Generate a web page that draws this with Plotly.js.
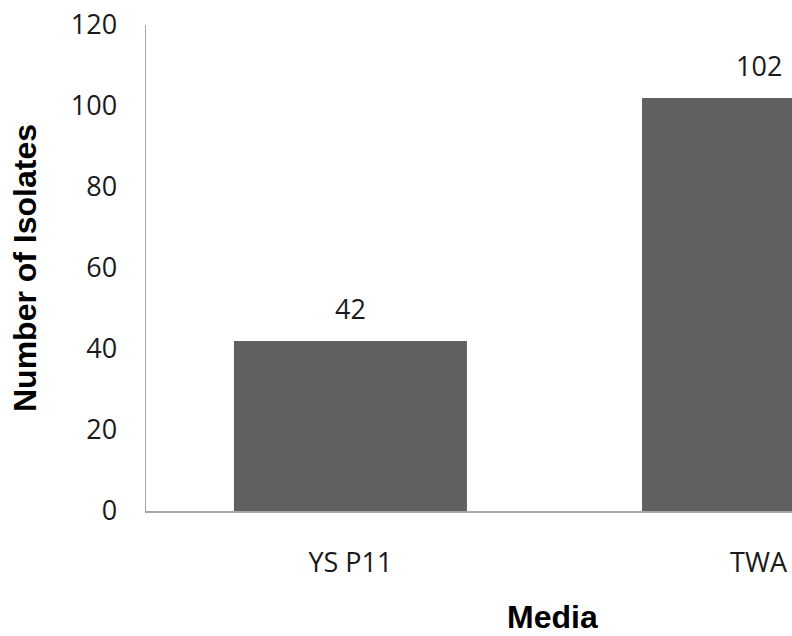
<!DOCTYPE html>
<html>
<head>
<meta charset="utf-8">
<script src="https://cdn.plot.ly/plotly-3.0.1.min.js"></script>
<style>html,body{margin:0;padding:0;background:#fff;}#chart{width:792px;height:636px;}</style>
</head>
<body>
<div id="chart"></div>
<script>
const categories = ["YS P11", "TWA"];
const isolates = [42, 102];
const yTicks = [0, 20, 40, 60, 80, 100, 120];
const xTitle = "Media";
const yTitle = "Number of Isolates";

const tickFont = {family: "'Open Sans', Lato, sans-serif", size: 27, color: "#1a1a1a"};
const titleFont = {family: "'Liberation Sans', Arial, sans-serif", size: 32, color: "#000", weight: "bold"};

const trace = {
  type: "bar",
  x: categories,
  y: isolates,
  width: 0.571,
  marker: {color: "#606060", line: {width: 0}},
  hoverinfo: "none"
};

const valueLabels = categories.map((c, i) => ({
  x: c, y: isolates[i], xref: "x", yref: "y",
  text: String(isolates[i]), showarrow: false,
  yanchor: "bottom", yshift: 12,
  font: tickFont
}));

const layout = {
  width: 792, height: 636,
  margin: {l: 146, r: 0, t: 25, b: 125},
  paper_bgcolor: "#fff", plot_bgcolor: "#fff",
  showlegend: false,
  xaxis: {
    type: "category",
    range: [-0.501, 1.082],
    showgrid: false, zeroline: false,
    showline: true, linecolor: "#a6a6a6", linewidth: 1.5,
    ticks: "", tickfont: tickFont,
    ticklabelstandoff: 27
  },
  yaxis: {
    range: [0, 120],
    tickvals: yTicks,
    showgrid: false, zeroline: false,
    showline: true, linecolor: "#a6a6a6", linewidth: 1.5,
    ticks: "", tickfont: tickFont,
    ticklabelstandoff: 22,
    title: {text: yTitle, font: titleFont, standoff: 24}
  },
  annotations: valueLabels.concat([{
    x: (552 - 146) / (792 - 146), xref: "paper",
    y: -(597 - 511) / (511 - 25), yref: "paper",
    xanchor: "center", yanchor: "top",
    text: xTitle, showarrow: false, font: titleFont
  }])
};

Plotly.newPlot("chart", [trace], layout, {staticPlot: true, displayModeBar: false});
</script>
</body>
</html>
